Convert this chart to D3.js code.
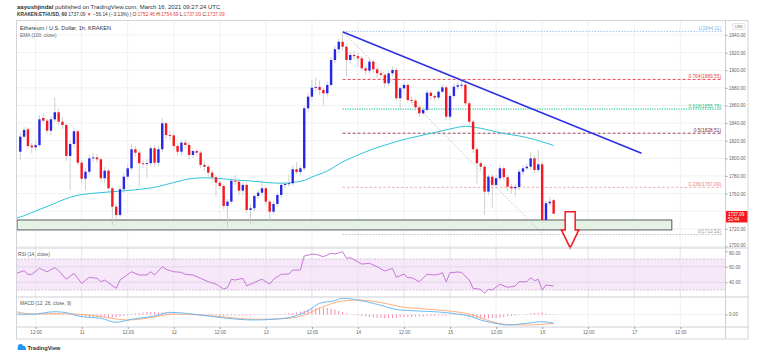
<!DOCTYPE html>
<html>
<head>
<meta charset="utf-8">
<script src="https://cdn.jsdelivr.net/npm/d3@7"></script>
<style>
    body { margin: 0; background: #fff; }
    svg { display: block; font-family: "Liberation Sans", Arial, sans-serif; }
</style>
</head>
<body>
<svg id="chart" width="764" height="361"></svg>
<script>
// hours are counted from Mar 10 12:00, first candle is at hour -4 (1h bars)
var t0 = Date.UTC(2021, 2, 10, 12);
var firstHour = -4;

var opens = [1807.5, 1824.6, 1833, 1814.5, 1812.5, 1815, 1845.8, 1842.7, 1831.4, 1844.3, 1852.3, 1841.6, 1837.9, 1802.7, 1816.3, 1830.7, 1795, 1776.9, 1784.8, 1800,
    1801, 1798.9, 1777.4, 1786, 1766, 1745.1, 1735.7, 1764.9, 1779.2, 1788.7, 1810.3, 1806.4, 1794.4, 1793.5, 1794.5, 1811.4, 1795, 1810.3, 1839.8, 1826.5,
    1826, 1814, 1807.5, 1817.8, 1815.2, 1803.8, 1808.3, 1806.4, 1792.5, 1790.5, 1783.7, 1778.5, 1772.4, 1768.6, 1745.9, 1750.8, 1774.6, 1773.5, 1763.3, 1769.8,
    1741.4, 1743.3, 1757.3, 1761, 1766, 1750.8, 1739.4, 1748.2, 1758.4, 1769.8, 1771, 1771.7, 1787.6, 1784.5, 1788.7, 1856.8, 1870, 1880.1, 1881, 1877.6,
    1873.8, 1883.3, 1911.6, 1923.8, 1932.4, 1926.7, 1911.6, 1917.3, 1916, 1913.6, 1902.2, 1899.5, 1909.7, 1901, 1896.5, 1894.6, 1885.2, 1896.5, 1900.3, 1868.2,
    1879.5, 1883.3, 1866.2, 1865.5, 1857.9, 1851.1, 1854.9, 1874.5, 1870.8, 1869, 1875.6, 1880.6, 1847.3, 1870.8, 1881.3, 1883, 1883.5, 1862.5, 1841.6, 1810.3,
    1794.4, 1790.5, 1762.2, 1779.2, 1769.8, 1777.4, 1788.7, 1778.5, 1767.8, 1766, 1767.5, 1784.8, 1788.7, 1790.5, 1800, 1786.8, 1793.2, 1730, 1749, 1752.46];
var highs = [1829, 1836, 1835, 1818, 1820, 1849, 1851, 1845, 1848, 1869.3, 1856, 1847, 1840, 1820, 1834, 1833, 1798, 1789, 1804, 1806,
    1805, 1801, 1790, 1788, 1768, 1748, 1768, 1783, 1793, 1816, 1814, 1809, 1798, 1799, 1815, 1815, 1814, 1845.8, 1842, 1831,
    1829, 1817, 1821, 1821, 1818, 1811, 1811, 1809, 1796, 1793, 1787, 1781, 1775, 1771, 1754, 1778, 1781, 1776, 1773, 1772,
    1748, 1760, 1764, 1775, 1768, 1753, 1751, 1761, 1773, 1774, 1781, 1792, 1796, 1792, 1860, 1874, 1889, 1892, 1889, 1880,
    1887, 1915, 1928, 1936, 1944.11, 1929, 1921, 1922, 1920, 1916, 1905, 1913, 1912, 1904, 1899, 1897, 1899, 1904, 1903, 1882,
    1886, 1886, 1870, 1868, 1860, 1858, 1878, 1877, 1873, 1878, 1884, 1883, 1874, 1885, 1887, 1889, 1889, 1865, 1844, 1813,
    1797, 1793, 1782, 1782, 1781, 1792, 1791, 1781, 1771, 1771, 1788, 1792, 1794, 1807.5, 1803, 1809.5, 1796, 1752, 1756, 1754.69];
var lows = [1798, 1822, 1811, 1806, 1808, 1813, 1840, 1828, 1826, 1841, 1838, 1833, 1797, 1764, 1812, 1792, 1772, 1764, 1781, 1796,
    1795, 1773, 1772, 1762, 1724.3, 1731, 1733, 1761, 1776, 1786, 1802, 1768, 1789, 1778, 1791, 1790, 1791, 1807, 1822, 1821,
    1810, 1803, 1804, 1811, 1799, 1800, 1802, 1789, 1786, 1779, 1775, 1756.5, 1765, 1742, 1722, 1748, 1770, 1758, 1758, 1738,
    1725.5, 1740, 1754, 1758, 1747, 1728, 1736, 1745, 1755, 1766, 1768, 1769, 1782, 1781, 1786, 1852, 1866, 1876, 1872, 1860,
    1870, 1881, 1908, 1919, 1922, 1892.7, 1907, 1912, 1904, 1899, 1895, 1896, 1897, 1891, 1889, 1880, 1882, 1893, 1865, 1855,
    1876, 1863, 1862, 1854, 1847, 1849, 1852, 1866, 1865, 1866, 1873, 1843, 1844, 1868, 1878, 1879, 1859, 1838, 1806, 1771,
    1786, 1735.7, 1758, 1743.6, 1766, 1774, 1775, 1763, 1760, 1756.5, 1764, 1781, 1786, 1787, 1783, 1784, 1727, 1728, 1746, 1737];
var closes = [1824.6, 1832.2, 1814, 1812.5, 1815, 1844.3, 1842.7, 1831.4, 1844.3, 1852.3, 1841.6, 1837.9, 1802.7, 1816.3, 1830.7, 1795, 1776.9, 1784.8, 1800, 1801,
    1798.9, 1777.4, 1786, 1766, 1745.1, 1735.7, 1764.9, 1779.2, 1788.7, 1810.3, 1806.4, 1794.4, 1793.5, 1794.5, 1811.4, 1795, 1810.3, 1839.8, 1826.5, 1826,
    1814, 1807.5, 1817.8, 1815.2, 1803.8, 1808.3, 1806.4, 1792.5, 1790.5, 1783.7, 1778.5, 1772.4, 1768.6, 1745.9, 1750.8, 1774.6, 1773.5, 1763.3, 1769.8, 1741.4,
    1743.3, 1757.3, 1761, 1766, 1750.8, 1739.4, 1748.2, 1758.4, 1769.8, 1771, 1771.7, 1787.6, 1784.5, 1788.7, 1856.8, 1870, 1880.1, 1881, 1877.6, 1873.8,
    1883.3, 1911.6, 1923.8, 1932.4, 1926.7, 1911.6, 1917.3, 1916, 1913.6, 1902.2, 1899.5, 1909.7, 1901, 1896.5, 1894.6, 1885.2, 1896.5, 1900.3, 1868.2, 1879.5,
    1883.3, 1866.2, 1865.5, 1857.9, 1851.1, 1854.9, 1874.5, 1870.8, 1869, 1875.6, 1880.6, 1847.3, 1870.8, 1881.3, 1883, 1883.5, 1862.5, 1841.6, 1810.3, 1794.4,
    1790.5, 1762.2, 1779.2, 1769.8, 1777.4, 1788.7, 1778.5, 1767.8, 1766, 1767.5, 1784.8, 1788.7, 1790.5, 1800, 1786.8, 1793.2, 1730, 1749, 1750.8, 1737.09];

// [hour, value] points
var ema100 = [[-5, 1732.3], [-4, 1733.4], [0, 1740.2], [4, 1747], [8, 1754.4], [12, 1758.9], [16, 1760.7], [20, 1762.1], [24, 1763.5], [28, 1765.2],
    [32, 1768], [36, 1772.6], [40, 1776.6], [44, 1777.9], [48, 1777.1], [52, 1775.4], [56, 1774.3], [60, 1772.6], [64, 1771.7], [68, 1773.2],
    [70, 1774.9], [72, 1778.8], [76, 1785.6], [80, 1795.9], [84, 1803.8], [88, 1810.6], [92, 1816.3], [96, 1821.4], [100, 1825.4], [104, 1829.3],
    [108, 1833.3], [112, 1836.4], [114, 1835.6], [118, 1832.2], [122, 1828.2], [126, 1825.4], [130, 1821.4], [133, 1817.4], [135, 1814.6]];
var rsi = [[-5, 51.5], [-3, 54.9], [-2, 50.3], [-1, 50.3], [1, 58], [3, 53.6], [5, 58.8], [6, 54.9], [8, 43.8], [10, 51.5], [12, 38.6], [14, 46.4],
    [16, 45.1], [17, 40.7], [18, 42.9], [21, 32.2], [22, 42.9], [25, 53.6], [27, 49.4], [29, 49.4], [30, 53.6], [31, 49.4], [33, 60.1], [34, 56.7],
    [36, 53.6], [38, 52.8], [39, 50.3], [41, 49.4], [43, 45.1], [45, 40.7], [47, 37.7], [49, 31.3], [50, 33], [51, 43.8], [52, 42.9], [54, 45.1],
    [55, 35.5], [56, 37.4], [58, 42], [59, 43.8], [61, 37.7], [62, 43.8], [64, 50.3], [66, 50.6], [67, 55.8], [69, 55.8], [70, 73.9], [72, 76.1],
    [73, 76.1], [75, 73], [77, 77.4], [78, 76.5], [80, 79.4], [81, 70.9], [82, 71.7], [85, 63.5], [87, 64.5], [89, 60.1], [91, 54.5], [93, 58],
    [94, 46.4], [96, 50.6], [97, 45.9], [98, 45.9], [100, 40.7], [102, 50.3], [104, 49.4], [105, 50.3], [106, 52.3], [107, 40.7], [108, 52.3],
    [110, 53.2], [111, 52.8], [113, 42.9], [114, 32.2], [116, 30.9], [117, 25.7], [118, 30.9], [119, 30], [121, 37.4], [123, 33.5], [125, 35.2],
    [126, 40.7], [128, 40.7], [129, 45.9], [130, 42], [131, 43.8], [132, 30], [133, 36.5], [135, 35.2]];
var macdLine = [[-5, 1], [-1, 0.4], [5, 5.6], [8, 3.6], [12, -4.4], [17, -7.6], [21, -15.6], [25, -9.6], [31, -3], [35, 4.4], [39, 2.4], [45, -3],
    [50, -7.6], [57, -11], [62, -9.6], [67, -4.4], [71, 7.6], [74, 22.4], [78, 27.6], [80, 32.4], [84, 29], [88, 22.4], [95, 9], [100, 7],
    [105, 5], [110, 1], [113, -3], [116, -11], [120, -18], [123, -21], [128, -17.6], [132, -14.4], [135, -17.6]];
var signalLine = [[-5, 5.6], [-1, 1], [5, 1.6], [10, 1], [17, -4.4], [24, -11], [29, -7.6], [36, 1], [43, -1], [50, -5.6], [57, -9.6], [66, -7.6],
    [70, -1], [74, 12.4], [79, 25.6], [84, 29], [91, 22.4], [95, 15.6], [100, 12], [105, 9], [110, 5], [114, -1], [117.5, -11], [123, -20],
    [128, -21], [135, -17.6]];
// one histogram value per candle
var macdHist = [-2, -2, -1, -1, 0, 1, 2, 3, 3, 3, 2, 1, 0, -1, -2, -3, -4, -4, -5, -4, -4, -5, -5, -6, -6, -5, -4, -3, -2,
    1, 2, 3, 4, 5, 5, 5, 4, 4, 3, 3, 2, 1, 1, 0, -1, -1, -1, -2, -2, -2, -2, -2, -3, -3, -2, -2, -2, -2, -2, -2, -2,
    -1, -1, -1, -1, 0, 0, 1, 1, 2, 3, 3, 4, 6, 8, 10, 12, 13, 14, 14, 13, 12, 10, 7, 5, 2, 0,
    -1, -2, -3, -4, -5, -6, -7, -7, -8, -7, -7, -7, -6, -5, -5, -5, -4, -4, -4, -3, -3, -3, -2, -2, -2, -1, -1, -1,
    -2, -3, -5, -6, -7, -8, -8, -8, -7, -7, -6, -5, -4, -3, -2, -1, 0, 1, 2, 3, 3, 4, 2, 1, 1];

var priceTicks = [1700, 1720, 1740, 1760, 1780, 1800, 1820, 1840, 1860, 1880, 1900, 1920, 1940];
var rsiTicks = [40, 60, 80];
var macdTicks = [0];
var timeTicks = [0, 12, 24, 36, 48, 60, 72, 84, 96, 108, 120, 132, 144, 156, 168];
var timeTickLabels = ['12:00', '11', '12:00', '12', '12:00', '13', '12:00', '14', '12:00', '15', '12:00', '16', '12:00', '17', '12:00'];

var fibRatios = ['1', '0.764', '0.618', '0.5', '0.236', '0'];
var fibPrices = [1944.11, 1889.55, 1855.79, 1828.51, 1767.09, 1713.52];
var fibFrom = [80, 1944.11], fibTo = [132.2, 1713.52];
var trendFrom = [80.1, 1943.4], trendTo = [157.9, 1805.7];
var zone = { low: 1718.7, high: 1730, endHour: 165.8 };
var arrow = { hour: 139.3, top: 1739.4, neck: 1718.7, tip: 1698.3 };

var L = 17, R = 725, AX = 748;
var pTop = 21, pBot = 248, rBot = 297, mBot = 327, tBot = 339;

function at(h) { return new Date(t0 + h * 36e5); }

var x = d3.scaleUtc().domain([at(-4.85), at(179.65)]).range([L, R]);
var yP = d3.scaleLinear().domain([1698.2, 1955.9]).range([pBot, pTop]);
var yR = d3.scaleLinear().domain([21, 84.2]).range([rBot, pBot]);
var yM = d3.scaleLinear().domain([-25, 35]).range([mBot, rBot]);

var svg = d3.select('#chart');
var defs = svg.append('defs');
[['clipP', pTop, pBot], ['clipR', pBot, rBot], ['clipM', rBot, mBot]].forEach(function (c) {
    defs.append('clipPath').attr('id', c[0]).append('rect')
        .attr('x', L).attr('y', c[1]).attr('width', R - L).attr('height', c[2] - c[1]);
});

// header
var head1 = svg.append('text').attr('x', 17).attr('y', 8.5).attr('font-size', 6).attr('fill', '#333');
head1.append('tspan').attr('font-weight', 'bold').text('aayushjindal');
head1.append('tspan').text(' published on TradingView.com, March 16, 2021 09:27:24 UTC');

var head2 = svg.append('text').attr('x', 17).attr('y', 16.3).attr('font-size', 4.8).attr('fill', '#333');
head2.append('tspan').attr('font-weight', 'bold').text('KRAKEN:ETHUSD, 60');
head2.append('tspan').text(' 1737.09 ');
head2.append('tspan').attr('fill', '#f23645').text('\u25BC');
head2.append('tspan').text(' \u221256.14 (\u22123.13%) | O:');
head2.append('tspan').attr('fill', '#f23645').text('1752.46');
head2.append('tspan').text(' H:');
head2.append('tspan').attr('fill', '#f23645').text('1754.69');
head2.append('tspan').text(' L:');
head2.append('tspan').attr('fill', '#f23645').text('1737.00');
head2.append('tspan').text(' C:');
head2.append('tspan').attr('fill', '#f23645').text('1737.09');

// grid
var grid = svg.append('g').attr('stroke', '#eceef2').attr('stroke-width', 0.8);
timeTicks.forEach(function (h) {
    grid.append('line').attr('x1', x(at(h))).attr('x2', x(at(h))).attr('y1', pTop).attr('y2', mBot);
});
priceTicks.forEach(function (p) {
    grid.append('line').attr('x1', L).attr('x2', R).attr('y1', yP(p)).attr('y2', yP(p));
});

// support zone
svg.append('rect')
    .attr('x', L).attr('y', yP(zone.high))
    .attr('width', x(at(zone.endHour)) - L).attr('height', yP(zone.low) - yP(zone.high))
    .attr('fill', '#e3f2e5').attr('stroke', '#4a4a4a').attr('stroke-width', 0.9);

// fib retracement
var fibColors = ['#8cbdf0', '#f23645', '#2fcf9c', '#8a3150', '#f3a2a8', '#b5b5b5'];
var fibText = ['#7fb3ea', '#e5484d', '#1fb886', '#7b2d45', '#ec7c83', '#9a9a9a'];
var fibDash = ['1.5,1.5', '3,2', '1.2,1.2', '3,2', '2.5,2', '1.5,1.5'];
var fibG = svg.append('g').attr('clip-path', 'url(#clipP)');
fibPrices.forEach(function (p, i) {
    fibG.append('line')
        .attr('x1', x(at(fibFrom[0]))).attr('x2', 722)
        .attr('y1', yP(p)).attr('y2', yP(p))
        .attr('stroke', fibColors[i]).attr('stroke-width', i === 2 ? 1.3 : 0.9)
        .attr('stroke-dasharray', fibDash[i]);
    fibG.append('text')
        .attr('x', 721).attr('y', yP(p) - 1.6)
        .attr('text-anchor', 'end').attr('font-size', 4.8).attr('fill', fibText[i])
        .text(fibRatios[i] + '(' + fibPrices[i].toFixed(2) + ')');
});
fibG.append('line')
    .attr('x1', x(at(fibFrom[0]))).attr('y1', yP(fibFrom[1]))
    .attr('x2', x(at(fibTo[0]))).attr('y2', yP(fibTo[1]))
    .attr('stroke', '#b8b8b8').attr('stroke-width', 0.8).attr('stroke-dasharray', '1.5,1.5');

// EMA 100
var priceG = svg.append('g').attr('clip-path', 'url(#clipP)');
priceG.append('path')
    .attr('d', d3.line().curve(d3.curveMonotoneX)
        .x(function (d) { return x(at(d[0])); })
        .y(function (d) { return yP(d[1]); })(ema100))
    .attr('fill', 'none').attr('stroke', '#2ec4d8').attr('stroke-width', 1);

// candles
var candles = opens.map(function (o, i) {
    return { h: firstHour + i, o: o, hi: highs[i], lo: lows[i], c: closes[i] };
});
var cg = priceG.selectAll('g.candle').data(candles).enter().append('g').attr('class', 'candle');
cg.append('line')
    .attr('x1', function (d) { return x(at(d.h)); })
    .attr('x2', function (d) { return x(at(d.h)); })
    .attr('y1', function (d) { return yP(d.hi); })
    .attr('y2', function (d) { return yP(d.lo); })
    .attr('stroke', '#c3c5ca').attr('stroke-width', 0.8);
cg.append('rect')
    .attr('x', function (d) { return x(at(d.h)) - 1.2; })
    .attr('width', 2.4)
    .attr('y', function (d) { return yP(Math.max(d.o, d.c)); })
    .attr('height', function (d) { return Math.max(0.9, Math.abs(yP(d.o) - yP(d.c))); })
    .attr('fill', function (d) { return d.c >= d.o ? '#2626e8' : '#f5191f'; });

// trend line
priceG.append('line')
    .attr('x1', x(at(trendFrom[0]))).attr('y1', yP(trendFrom[1]))
    .attr('x2', x(at(trendTo[0]))).attr('y2', yP(trendTo[1]))
    .attr('stroke', '#2f2fe6').attr('stroke-width', 1.6);

// arrow
var ax = x(at(arrow.hour)), ayT = yP(arrow.top), ayN = yP(arrow.neck), ayTip = yP(arrow.tip);
svg.append('path')
    .attr('d', 'M' + (ax - 5) + ',' + ayT + 'L' + (ax + 5) + ',' + ayT + 'L' + (ax + 5) + ',' + ayN +
        'L' + (ax + 8.7) + ',' + ayN + 'L' + ax + ',' + ayTip + 'L' + (ax - 8.7) + ',' + ayN +
        'L' + (ax - 5) + ',' + ayN + 'Z')
    .attr('fill', '#fff').attr('stroke', '#f5191f').attr('stroke-width', 1.5).attr('stroke-linejoin', 'miter');

// pane labels
svg.append('text').attr('x', 20).attr('y', 30).attr('font-size', 5.6).attr('fill', '#333')
    .text('Ethereum / U.S. Dollar, 1h, KRAKEN');
svg.append('text').attr('x', 20).attr('y', 36.6).attr('font-size', 4.8).attr('fill', '#666')
    .text('EMA (100, close)');

// RSI pane
var rsiG = svg.append('g').attr('clip-path', 'url(#clipR)');
rsiG.append('rect').attr('x', L).attr('width', R - L).attr('y', yR(70)).attr('height', yR(30) - yR(70))
    .attr('fill', '#f6e8f9');
timeTicks.forEach(function (h) {
    rsiG.append('line').attr('x1', x(at(h))).attr('x2', x(at(h))).attr('y1', pBot).attr('y2', rBot)
        .attr('stroke', '#e6e2ea').attr('stroke-width', 0.8);
});
[40, 60].forEach(function (v) {
    rsiG.append('line').attr('x1', L).attr('x2', R).attr('y1', yR(v)).attr('y2', yR(v))
        .attr('stroke', '#ddd3e2').attr('stroke-width', 0.8);
});
[70, 30].forEach(function (v) {
    rsiG.append('line').attr('x1', L).attr('x2', R).attr('y1', yR(v)).attr('y2', yR(v))
        .attr('stroke', '#c4acc9').attr('stroke-width', 0.7).attr('stroke-dasharray', '2,1.5');
});
rsiG.append('path')
    .attr('d', d3.line()
        .x(function (d) { return x(at(d[0])); })
        .y(function (d) { return yR(d[1]); })(rsi))
    .attr('fill', 'none').attr('stroke', '#c06ad0').attr('stroke-width', 0.9);
svg.append('text').attr('x', 18).attr('y', 256).attr('font-size', 4.8).attr('fill', '#555')
    .text('RSI (14, close)');

// MACD pane
var macdG = svg.append('g').attr('clip-path', 'url(#clipM)');
macdG.append('line').attr('x1', L).attr('x2', R).attr('y1', yM(0)).attr('y2', yM(0))
    .attr('stroke', '#eceef2').attr('stroke-width', 0.8);
macdG.selectAll('line.bar').data(macdHist).enter().append('line').attr('class', 'bar')
    .attr('x1', function (d, i) { return x(at(firstHour + i)); })
    .attr('x2', function (d, i) { return x(at(firstHour + i)); })
    .attr('y1', yM(0))
    .attr('y2', function (d) { return yM(d); })
    .attr('stroke', '#f77ba6').attr('stroke-width', 0.9);
var mline = d3.line().curve(d3.curveMonotoneX)
    .x(function (d) { return x(at(d[0])); })
    .y(function (d) { return yM(d[1]); });
macdG.append('path').attr('d', mline(signalLine)).attr('fill', 'none').attr('stroke', '#ffa56e').attr('stroke-width', 0.9);
macdG.append('path').attr('d', mline(macdLine)).attr('fill', 'none').attr('stroke', '#5ab4f5').attr('stroke-width', 0.9);
svg.append('text').attr('x', 20).attr('y', 304.5).attr('font-size', 4.8).attr('fill', '#555')
    .text('MACD (12, 26, close, 9)');

// frame and separators
var frame = svg.append('g').attr('stroke', '#cdd0d6').attr('fill', 'none');
frame.append('rect').attr('x', 16.5).attr('y', 20.5).attr('width', AX - 16.5).attr('height', tBot - 20.5).attr('stroke-width', 0.9);
[pBot, rBot, mBot].forEach(function (y) {
    frame.append('line').attr('x1', 16.5).attr('x2', AX).attr('y1', y).attr('y2', y).attr('stroke-width', 1.2);
});
frame.append('line').attr('x1', R + 0.5).attr('x2', R + 0.5).attr('y1', 20.5).attr('y2', tBot).attr('stroke-width', 1);

// right axes
var lastY = yP(closes[closes.length - 1]);
function styleAxis(g) {
    g.select('.domain').remove();
    g.selectAll('line').attr('stroke', '#9aa0a8');
    g.selectAll('text').attr('fill', '#666').attr('font-size', 4.6).attr('font-family', '"Liberation Sans", Arial, sans-serif');
}
svg.append('g').attr('transform', 'translate(' + (R + 0.5) + ',0)')
    .call(d3.axisRight(yP).tickValues(priceTicks.filter(function (p) { return Math.abs(yP(p) - lastY) > 9; }))
        .tickFormat(d3.format('.2f')).tickSize(2).tickPadding(1.5))
    .call(styleAxis)
    .selectAll('text').attr('dy', function (d) { return d === 1700 ? '0' : '0.32em'; });
svg.append('g').attr('transform', 'translate(' + (R + 0.5) + ',0)')
    .call(d3.axisRight(yR).tickValues(rsiTicks).tickFormat(d3.format('.2f')).tickSize(2).tickPadding(1.5))
    .call(styleAxis)
    .selectAll('text').attr('dy', function (d) { return d === 80 ? '0.7em' : '0.32em'; });
svg.append('g').attr('transform', 'translate(' + (R + 0.5) + ',0)')
    .call(d3.axisRight(yM).tickValues(macdTicks).tickFormat(d3.format('.2f')).tickSize(2).tickPadding(1.5))
    .call(styleAxis);

// time axis
svg.append('g').attr('transform', 'translate(0,' + mBot + ')')
    .call(d3.axisBottom(x).tickValues(timeTicks.map(at))
        .tickFormat(function (d, i) { return timeTickLabels[i]; })
        .tickSize(2).tickPadding(1.5))
    .call(styleAxis);

// last price label
svg.append('rect').attr('x', R + 1).attr('y', lastY - 2.8).attr('width', AX - R - 1.5).attr('height', 11.5).attr('fill', '#f5191f');
svg.append('text').attr('x', R + 3).attr('y', lastY + 2).attr('font-size', 4.5).attr('fill', '#fff').text('1737.09');
svg.append('text').attr('x', R + 3).attr('y', lastY + 7.2).attr('font-size', 4.5).attr('fill', '#fff').text('52:44');

// currency box
svg.append('rect').attr('x', 733).attr('y', 23.5).attr('width', 12).attr('height', 6)
    .attr('fill', '#fff').attr('stroke', '#cfd2d8').attr('stroke-width', 0.6).attr('rx', 1);
svg.append('text').attr('x', 739).attr('y', 28).attr('text-anchor', 'middle').attr('font-size', 3.8).attr('fill', '#666').text('USD');

// tradingview mark
var logo = svg.append('g').attr('fill', '#2196f3');
logo.append('circle').attr('cx', 20.5).attr('cy', 346.5).attr('r', 2.6);
logo.append('circle').attr('cx', 23.5).attr('cy', 347.8).attr('r', 2);
logo.append('rect').attr('x', 17.5).attr('y', 347.5).attr('width', 8.5).attr('height', 2.6).attr('rx', 1.2);
svg.append('text').attr('x', 27.5).attr('y', 350).attr('font-size', 5.6).attr('font-weight', 'bold').attr('fill', '#333')
    .text('TradingView');
</script>
</body>
</html>
